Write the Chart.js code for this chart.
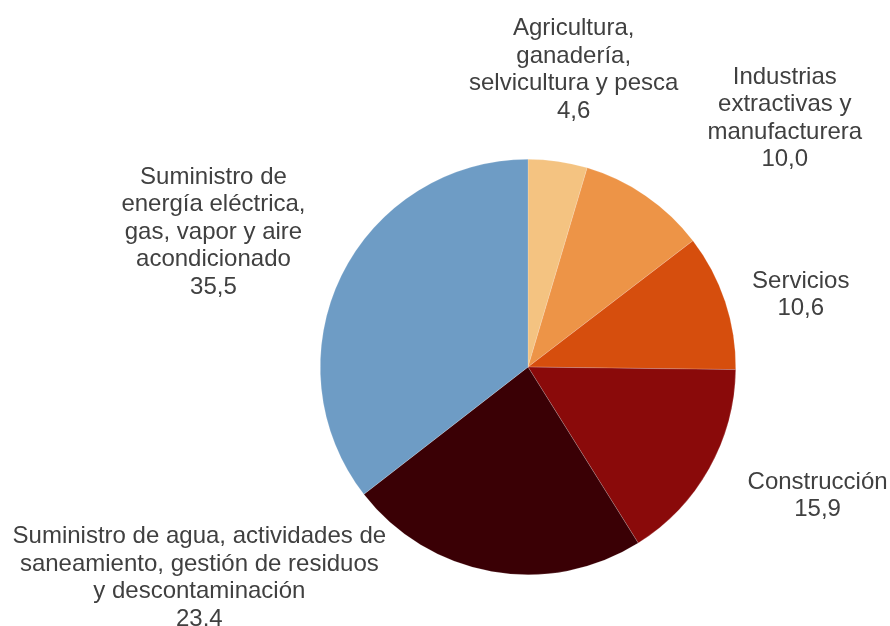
<!DOCTYPE html>
<html lang="es">
<head>
    <meta charset="UTF-8">
    <title>Distribución por sector</title>
    <style>
        body {
            margin: 0;
            padding: 0;
            background-color: #ffffff;
        }
        #wrap {
            width: 890px;
            height: 626px;
        }
    </style>
    <script src="https://cdn.jsdelivr.net/npm/chart.js"></script>
</head>
<body>

    <div id="wrap">
        <canvas id="pieChart" width="890" height="626"></canvas>
    </div>

    <script>
        // Data
        const categories = [
            ['Agricultura,', 'ganadería,', 'selvicultura y pesca'],
            ['Industrias', 'extractivas y', 'manufacturera'],
            ['Servicios'],
            ['Construcción'],
            ['Suministro de agua, actividades de', 'saneamiento, gestión de residuos', 'y descontaminación'],
            ['Suministro de', 'energía eléctrica,', 'gas, vapor y aire', 'acondicionado']
        ];
        const values = [4.6, 10.0, 10.6, 15.9, 23.4, 35.5];
        const valueLabels = ['4,6', '10,0', '10,6', '15,9', '23.4', '35,5'];
        const colors = ['#F4C381', '#ED9447', '#D64E0D', '#8A0A0A', '#3A0005', '#6E9CC5'];

        // label block centres, in units of the pie radius, from the pie centre
        const labelOffsets = [
            [0.22, -1.43],
            [1.236, -1.197],
            [1.313, -0.346],
            [1.394, 0.62],
            [-1.582, 1.014],
            [-1.514, -0.649]
        ];

        const outsideLabels = {
            id: 'outsideLabels',
            afterDatasetsDraw(chart) {
                const ctx = chart.ctx;
                const meta = chart.getDatasetMeta(0);
                const lineH = 27.5;
                ctx.save();
                ctx.font = '24px "Liberation Sans", Arial, sans-serif';
                ctx.fillStyle = '#404040';
                ctx.textAlign = 'center';
                ctx.textBaseline = 'middle';
                meta.data.forEach((arc, i) => {
                    const r = arc.outerRadius;
                    const cx = arc.x + labelOffsets[i][0] * r;
                    const cy = arc.y + labelOffsets[i][1] * r;
                    const lines = categories[i].concat([valueLabels[i]]);
                    const top = cy - (lines.length - 1) * lineH / 2;
                    lines.forEach((t, j) => {
                        ctx.fillText(t, cx, top + j * lineH);
                    });
                });
                ctx.restore();
            }
        };

        const ctx = document.getElementById('pieChart').getContext('2d');
        new Chart(ctx, {
            type: 'pie',
            data: {
                labels: categories.map(c => c.join(' ')),
                datasets: [{
                    data: values,
                    backgroundColor: colors,
                    borderColor: 'rgba(255,255,255,0.35)',
                    borderWidth: 0.5
                }]
            },
            options: {
                responsive: false,
                animation: false,
                layout: {
                    padding: { left: 320, right: 154, top: 159, bottom: 51 }
                },
                plugins: {
                    legend: { display: false },
                    tooltip: { enabled: false }
                }
            },
            plugins: [outsideLabels]
        });
    </script>
</body>
</html>
